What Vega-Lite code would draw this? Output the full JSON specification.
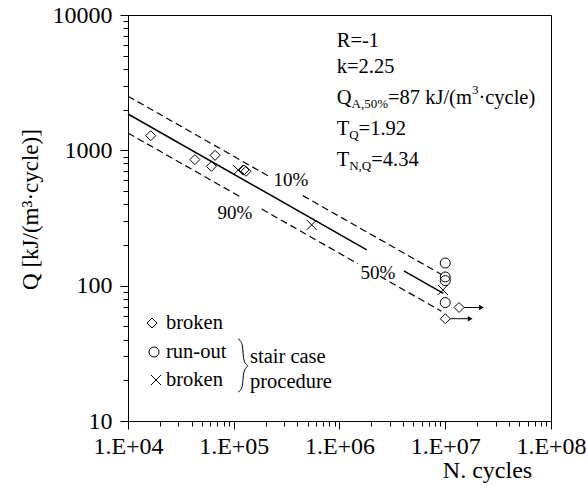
{
  "$schema": "https://vega.github.io/schema/vega-lite/v6.json",
  "width": 423,
  "height": 406,
  "autosize": "none",
  "padding": {"left": 128, "top": 15, "right": 36, "bottom": 73},
  "background": "white",
  "config": {
    "font": "Liberation Serif",
    "view": {"stroke": "black", "strokeWidth": 1},
    "axis": {"grid": false, "domainColor": "black", "tickColor": "black", "labelColor": "black", "titleColor": "black", "titleFontWeight": "normal", "labelFont": "Liberation Serif", "titleFont": "Liberation Serif", "domainWidth": 1, "tickWidth": 1}
  },
  "datasets": {
    "lines": [
      {"N": 10000, "Q": 1856, "seg": "s1", "band": "50%"},
      {"N": 1810000, "Q": 184.1, "seg": "s1", "band": "50%"},
      {"N": 4060000, "Q": 128.6, "seg": "s2", "band": "50%"},
      {"N": 9600000, "Q": 87.7, "seg": "s2", "band": "50%"},
      {"N": 10000, "Q": 2512, "seg": "u1", "band": "10%"},
      {"N": 210000, "Q": 649.4, "seg": "u1", "band": "10%"},
      {"N": 450000, "Q": 462.9, "seg": "u2", "band": "10%"},
      {"N": 9200000, "Q": 121.0, "seg": "u2", "band": "10%"},
      {"N": 10000, "Q": 1343, "seg": "l1", "band": "90%"},
      {"N": 118900, "Q": 446.9, "seg": "l1", "band": "90%"},
      {"N": 183800, "Q": 368.3, "seg": "l2", "band": "90%"},
      {"N": 1496000, "Q": 145.0, "seg": "l2", "band": "90%"},
      {"N": 2415000, "Q": 117.2, "seg": "l3", "band": "90%"},
      {"N": 9200000, "Q": 64.7, "seg": "l3", "band": "90%"}
    ],
    "points": [
      {"N": 16400, "Q": 1283, "type": "broken"},
      {"N": 42900, "Q": 854, "type": "broken"},
      {"N": 66600, "Q": 919, "type": "broken"},
      {"N": 61500, "Q": 762, "type": "broken"},
      {"N": 125000, "Q": 716, "type": "broken"},
      {"N": 130600, "Q": 700, "type": "broken"},
      {"N": 13500000, "Q": 69, "type": "broken"},
      {"N": 10000000, "Q": 57, "type": "broken"},
      {"N": 10000000, "Q": 147, "type": "run-out"},
      {"N": 10000000, "Q": 116, "type": "run-out"},
      {"N": 10000000, "Q": 109, "type": "run-out"},
      {"N": 10000000, "Q": 75, "type": "run-out"},
      {"N": 110000, "Q": 715, "type": "stair broken"},
      {"N": 546000, "Q": 281, "type": "stair broken"},
      {"N": 9500000, "Q": 93, "type": "stair broken"},
      {"N": 16870, "Q": 52.98, "type": "broken"},
      {"N": 17620, "Q": 32.34, "type": "run-out"},
      {"N": 18400, "Q": 20.09, "type": "stair broken"}
    ],
    "arrows": [
      {"N": 15040000, "N2": 22000000, "Q": 69},
      {"N": 11090000, "N2": 17200000, "Q": 57}
    ],
    "heads": [
      {"N": 22000000, "Q": 69},
      {"N": 17200000, "Q": 57}
    ],
    "brace": [
      {"i": 1, "N": 109700, "Q": 40.35},
      {"i": 2, "N": 122300, "Q": 38.35},
      {"i": 3, "N": 122300, "Q": 27.29},
      {"i": 4, "N": 136400, "Q": 25.49},
      {"i": 5, "N": 136400, "Q": 25.49},
      {"i": 6, "N": 122300, "Q": 23.82},
      {"i": 7, "N": 122300, "Q": 17.23},
      {"i": 8, "N": 109700, "Q": 16.38}
    ],
    "notes": [
      {"role": "main", "N": 941000, "Q": 5851, "text": "R=-1"},
      {"role": "main", "N": 941000, "Q": 3727, "text": "k=2.25"},
      {"role": "main", "N": 941000, "Q": 2199, "text": "Q"},
      {"role": "sub", "N": 1298500, "Q": 2055, "text": "A,50%"},
      {"role": "main", "N": 2874000, "Q": 2199, "text": "=87 kJ/(m"},
      {"role": "sub", "N": 17860000, "Q": 2608, "text": "3"},
      {"role": "main", "N": 20580000, "Q": 2199, "text": "·cycle)"},
      {"role": "main", "N": 941000, "Q": 1298, "text": "T"},
      {"role": "sub", "N": 1235000, "Q": 1213, "text": "Q"},
      {"role": "main", "N": 1516000, "Q": 1298, "text": "=1.92"},
      {"role": "main", "N": 941000, "Q": 766, "text": "T"},
      {"role": "sub", "N": 1235000, "Q": 715.6, "text": "N,Q"},
      {"role": "main", "N": 1994000, "Q": 766, "text": "=4.34"},
      {"role": "pct", "N": 347800, "Q": 603.7, "text": "10%"},
      {"role": "pct", "N": 102800, "Q": 344.2, "text": "90%"},
      {"role": "pct", "N": 2312000, "Q": 124.1, "text": "50%"},
      {"role": "legend", "N": 22880, "Q": 52.98, "text": "broken"},
      {"role": "legend", "N": 22880, "Q": 32.34, "text": "run-out"},
      {"role": "legend", "N": 22880, "Q": 20.09, "text": "broken"},
      {"role": "legend", "N": 142400, "Q": 29.71, "text": "stair case"},
      {"role": "legend", "N": 142400, "Q": 19.42, "text": "procedure"}
    ]
  },
  "encoding": {
    "x": {
      "field": "N", "type": "quantitative",
      "scale": {"type": "log", "domain": [10000, 100000000], "nice": false},
      "axis": {
        "title": "N. cycles",
        "values": [10000, 20000, 30000, 40000, 50000, 60000, 70000, 80000, 90000, 100000, 200000, 300000, 400000, 500000, 600000, 700000, 800000, 900000, 1000000, 2000000, 3000000, 4000000, 5000000, 6000000, 7000000, 8000000, 9000000, 10000000, 20000000, 30000000, 40000000, 50000000, 60000000, 70000000, 80000000, 90000000, 100000000],
        "labelExpr": "indexof([10000, 100000, 1000000, 10000000, 100000000], datum.value) >= 0 ? '1.E+0' + round(log(datum.value) / LN10) : ''",
        "tickSize": {"condition": {"test": "indexof([10000, 100000, 1000000, 10000000, 100000000], datum.value) >= 0", "value": 8}, "value": 5},
        "labelFontSize": 24, "labelPadding": 5, "labelOverlap": false, "labelFlush": false, "labelBound": false,
        "titleFontSize": 24, "titleX": 359, "titleY": 49, "titleAlign": "center", "titleBaseline": "middle"
      }
    },
    "y": {
      "field": "Q", "type": "quantitative",
      "scale": {"type": "log", "domain": [10, 10000], "nice": false},
      "axis": {
        "title": "Q [kJ/(m³·cycle)]",
        "values": [10, 20, 30, 40, 50, 60, 70, 80, 90, 100, 200, 300, 400, 500, 600, 700, 800, 900, 1000, 2000, 3000, 4000, 5000, 6000, 7000, 8000, 9000, 10000],
        "labelExpr": "indexof([10, 100, 1000, 10000], datum.value) >= 0 ? format(datum.value, 'd') : ''",
        "tickSize": {"condition": {"test": "indexof([10, 100, 1000, 10000], datum.value) >= 0", "value": 8}, "value": 5},
        "labelFontSize": 24, "labelPadding": 8, "labelOverlap": false, "labelFlush": false, "labelBound": false,
        "titleFontSize": 23, "titleAngle": 270, "titleX": -98, "titleY": 194, "titleAlign": "center", "titleBaseline": "middle"
      }
    }
  },
  "layer": [
    {
      "data": {"name": "lines"},
      "transform": [{"filter": "datum.band === '50%'"}],
      "mark": {"type": "line", "color": "black", "strokeWidth": 1.5},
      "encoding": {"detail": {"field": "seg"}}
    },
    {
      "data": {"name": "lines"},
      "transform": [{"filter": "datum.band !== '50%'"}],
      "mark": {"type": "line", "color": "black", "strokeWidth": 1.2, "strokeDash": [7, 4]},
      "encoding": {"detail": {"field": "seg"}}
    },
    {
      "data": {"name": "points"},
      "mark": {"type": "point", "filled": false, "stroke": "black", "strokeWidth": 1, "size": 100, "opacity": 1},
      "encoding": {
        "shape": {"field": "type", "type": "nominal", "scale": {"domain": ["broken", "run-out", "stair broken"], "range": ["diamond", "circle", "M-1,-1L1,1M-1,1L1,-1"]}, "legend": null}
      }
    },
    {
      "data": {"name": "arrows"},
      "mark": {"type": "rule", "color": "black", "strokeWidth": 1},
      "encoding": {"x2": {"field": "N2"}}
    },
    {
      "data": {"name": "heads"},
      "mark": {"type": "point", "shape": "triangle-right", "filled": true, "color": "black", "size": 30, "opacity": 1}
    },
    {
      "data": {"name": "brace"},
      "mark": {"type": "line", "color": "black", "strokeWidth": 1, "interpolate": "basis"},
      "encoding": {"order": {"field": "i", "type": "quantitative"}}
    },
    {
      "data": {"name": "notes"},
      "transform": [{"filter": "datum.role === 'main'"}],
      "mark": {"type": "text", "align": "left", "baseline": "alphabetic", "fontSize": 20.5, "color": "black", "font": "Liberation Serif"},
      "encoding": {"text": {"field": "text"}}
    },
    {
      "data": {"name": "notes"},
      "transform": [{"filter": "datum.role === 'sub'"}],
      "mark": {"type": "text", "align": "left", "baseline": "alphabetic", "fontSize": 13, "color": "black", "font": "Liberation Serif"},
      "encoding": {"text": {"field": "text"}}
    },
    {
      "data": {"name": "notes"},
      "transform": [{"filter": "datum.role === 'pct'"}],
      "mark": {"type": "text", "align": "center", "baseline": "middle", "fontSize": 19, "color": "black", "font": "Liberation Serif"},
      "encoding": {"text": {"field": "text"}}
    },
    {
      "data": {"name": "notes"},
      "transform": [{"filter": "datum.role === 'legend'"}],
      "mark": {"type": "text", "align": "left", "baseline": "middle", "fontSize": 20.5, "color": "black", "font": "Liberation Serif"},
      "encoding": {"text": {"field": "text"}}
    }
  ]
}
